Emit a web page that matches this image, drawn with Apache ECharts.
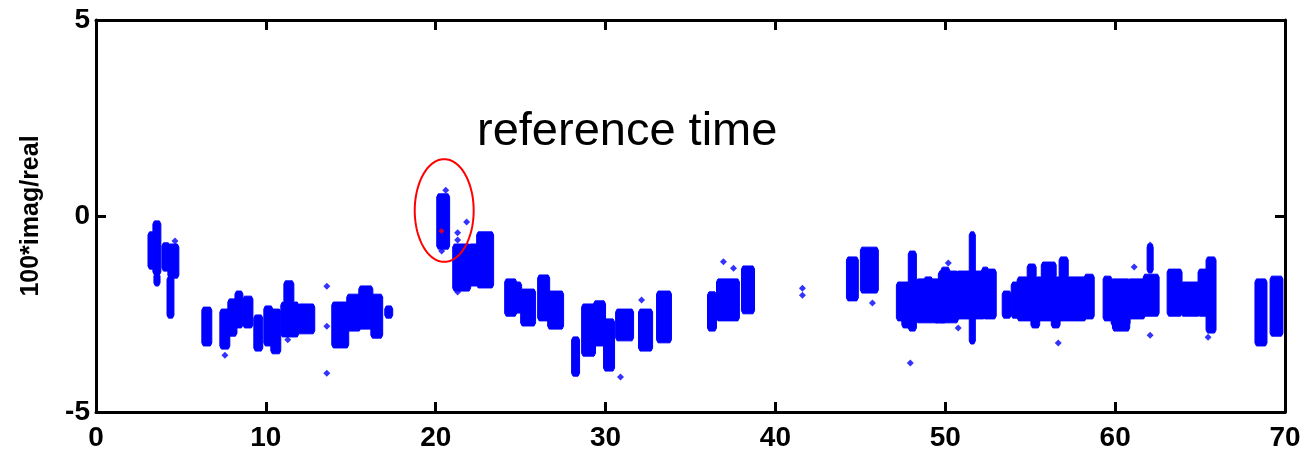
<!DOCTYPE html>
<html>
<head>
<meta charset="utf-8">
<script src="https://cdn.jsdelivr.net/npm/echarts@6/dist/echarts.min.js"></script>
<style>
html,body{margin:0;padding:0;background:#fff;}
#chart{width:1306px;height:456px;}
</style>
</head>
<body>
<div id="chart"></div>
<script>
// x ticks and y ticks
var xTicks = [0, 10, 20, 30, 40, 50, 60, 70];
var yTicks = [-5, 0, 5];

// Dense point clouds: [xStart, xEnd, yLow, yHigh]
var clusterBlocks = [
  [3.12,3.41,-1.33,-0.43],[3.41,3.76,-1.48,-0.15],[3.47,3.71,-1.76,-1.48],
  [3.94,4.29,-1.38,-0.71],[4.29,4.82,-1.56,-0.74],[4.24,4.53,-2.58,-1.56],
  [6.29,6.76,-3.29,-2.35],
  [7.35,7.82,-3.37,-2.40],
  [7.82,8.24,-3.04,-2.14],[8.24,8.59,-2.83,-1.94],
  [8.71,9.18,-2.83,-2.07],
  [9.35,9.76,-3.42,-2.55],
  [9.94,10.35,-3.29,-2.32],[10.35,10.82,-3.49,-2.40],
  [10.94,11.88,-3.06,-2.22],[11.12,11.59,-2.22,-1.68],
  [11.94,12.82,-2.98,-2.27],
  [13.94,14.82,-3.34,-2.22],
  [14.82,15.53,-2.91,-2.02],[15.53,16.24,-2.86,-1.81],[16.24,16.82,-3.09,-2.02],[17.06,17.41,-2.58,-2.32],
  [20.12,20.76,-0.82,0.54],
  [21.06,22.0,-1.89,-0.74],[22.0,22.47,-1.76,-0.74],[22.47,23.35,-1.81,-0.43],
  [24.12,24.71,-2.53,-1.63],[24.71,25.0,-2.45,-1.71],
  [25.06,25.82,-2.78,-1.89],
  [26.06,26.65,-2.65,-1.53],
  [26.65,27.47,-2.86,-1.94],
  [28.06,28.41,-4.06,-3.11],
  [28.65,29.35,-3.55,-2.27],[29.35,29.94,-3.29,-2.19],[29.94,30.47,-3.93,-2.65],
  [30.65,31.59,-3.16,-2.40],
  [32.0,32.71,-3.42,-2.40],
  [33.06,33.82,-3.21,-1.94],
  [36.06,36.47,-2.91,-1.96],
  [36.59,37.82,-2.65,-1.63],
  [38.06,38.71,-2.47,-1.30],
  [44.24,44.82,-2.14,-1.07],
  [45.06,46.0,-1.94,-0.82],
  [47.18,48.35,-2.65,-1.71],[47.5,48.1,-2.83,-2.4],[47.88,48.24,-2.91,-0.92],[48.35,49.65,-2.70,-1.63],
  [48.8,49.2,-2.2,-1.58],[49.4,50.0,-2.70,-2.2],[49.65,50.71,-2.70,-1.43],[49.8,50.2,-2.0,-1.33],
  [50.71,52.29,-2.60,-1.43],[51.47,51.71,-3.24,-0.43],[52.2,52.5,-2.0,-1.33],[52.29,52.94,-2.60,-1.38],
  [53.41,53.82,-2.58,-1.94],[53.94,54.29,-2.58,-1.71],[54.29,58.24,-2.65,-1.58],
  [54.88,55.29,-1.58,-1.25],[55.1,55.5,-2.83,-2.4],[55.71,56.47,-1.58,-1.20],[56.3,56.7,-2.83,-2.4],
  [56.76,57.18,-1.58,-1.07],[58.24,58.71,-2.60,-1.51],
  [59.35,59.76,-2.65,-1.56],
  [59.82,60.82,-2.78,-1.63],[59.9,60.8,-2.91,-2.5],[60.82,61.71,-2.60,-1.63],[61.71,62.53,-2.53,-1.51],[61.94,62.18,-1.43,-0.74],
  [63.12,63.88,-2.53,-1.38],
  [63.94,64.94,-2.53,-1.71],[64.94,65.53,-2.53,-1.38],[65.41,65.88,-2.96,-1.07],
  [68.29,68.88,-3.29,-1.63],
  [69.18,69.82,-3.04,-1.56]
];

// Isolated points
var scatterPoints = [
  [4.65,-0.64],[7.59,-3.55],[11.29,-3.16],
  [13.59,-1.79],[13.59,-2.81],[13.59,-4.01],
  [20.59,0.66],[20.35,-0.89],[21.82,-0.15],[21.29,-0.43],[21.29,-0.61],[21.29,-1.94],
  [30.88,-4.11],[32.12,-2.14],
  [36.94,-1.17],[37.53,-1.33],
  [41.59,-1.84],[41.59,-2.02],
  [45.71,-2.22],
  [47.94,-3.75],[50.18,-1.20],[50.76,-2.86],
  [56.65,-3.24],
  [61.12,-1.30],[62.06,-3.04],[62.06,-0.74],
  [65.47,-3.09]
];

// Reference time point
var referencePoint = [[20.34,-0.38]];
// Ellipse around reference: [centerX, centerY, radiusX, radiusY]
var referenceEllipse = [[20.50, 0.14, 1.735, 1.31]];
var annotationText = 'reference time';

var chart = echarts.init(document.getElementById('chart'));
var FONT = '"Liberation Sans", Arial, sans-serif';
var axisCommon = {
  min: 0, max: 70, interval: 10,
  axisLine: {show: true, onZero: false, lineStyle: {color: '#000', width: 3}},
  axisTick: {show: true, inside: true, length: 10, lineStyle: {color: '#000', width: 3}},
  splitLine: {show: false}
};
var option = {
  animation: false,
  backgroundColor: '#fff',
  grid: {left: 96, right: 21, top: 20, bottom: 44, containLabel: false},
  xAxis: [
    Object.assign({}, axisCommon, {type: 'value', position: 'bottom',
      axisLabel: {show: true, color: '#000', fontSize: 28, fontWeight: 'bold', fontFamily: FONT, margin: 12,
        formatter: function(v){ return xTicks.indexOf(v) >= 0 ? String(v) : ''; }}}),
    Object.assign({}, axisCommon, {type: 'value', position: 'top', axisLabel: {show: false}})
  ],
  yAxis: [
    Object.assign({}, axisCommon, {type: 'value', min: -5, max: 5, interval: 5, position: 'left',
      name: '100*imag/real', nameLocation: 'middle', nameGap: 52,
      nameTextStyle: {color: '#000', fontSize: 25, fontWeight: 'bold', fontFamily: FONT},
      axisLabel: {show: true, color: '#000', fontSize: 28, fontWeight: 'bold', fontFamily: FONT, margin: 6,
        formatter: function(v){ return yTicks.indexOf(v) >= 0 ? String(v) : ''; }}}),
    Object.assign({}, axisCommon, {type: 'value', min: -5, max: 5, interval: 5, position: 'right', axisLabel: {show: false}})
  ],
  series: [
    {
      type: 'custom',
      xAxisIndex: 0, yAxisIndex: 0,
      clip: true,
      encode: {x: [0, 1], y: [2, 3]},
      data: clusterBlocks,
      renderItem: function(params, api){
        var p0 = api.coord([api.value(0), api.value(3)]);
        var p1 = api.coord([api.value(1), api.value(2)]);
        var l = p0[0] - 1, r = p1[0] + 1, t = p0[1] - 1, b = p1[1] + 1;
        var w = r - l, h = b - t;
        var tp = Math.min(3, h / 3), inset = Math.min(1.5, w / 3);
        var pts = [
          [l + inset, t], [r - inset, t], [r, t + tp], [r, b - tp],
          [r - inset, b], [l + inset, b], [l, b - tp], [l, t + tp]
        ];
        return {type: 'polygon', shape: {points: pts},
          style: {fill: '#0000ff', stroke: '#0000ff', lineWidth: 1}};
      },
      z: 2
    },
    {
      type: 'scatter', xAxisIndex: 0, yAxisIndex: 0,
      data: scatterPoints, symbol: 'diamond', symbolSize: 7,
      itemStyle: {color: '#0000ff'}, z: 3
    },
    {
      type: 'scatter', xAxisIndex: 0, yAxisIndex: 0,
      data: referencePoint, symbol: 'diamond', symbolSize: 6,
      itemStyle: {color: '#ff0000'}, z: 4
    },
    {
      type: 'custom', xAxisIndex: 0, yAxisIndex: 0,
      data: referenceEllipse,
      encode: {x: 0, y: 1},
      renderItem: function(params, api){
        var c = api.coord([api.value(0), api.value(1)]);
        var s = api.size([api.value(2), api.value(3)]);
        var pts = [];
        for (var i = 0; i < 120; i++) {
          var t = i / 120 * Math.PI * 2;
          pts.push([c[0] + s[0] * Math.cos(t), c[1] + s[1] * Math.sin(t)]);
        }
        return {type: 'polygon', shape: {points: pts},
          style: {fill: 'none', stroke: '#ff0000', lineWidth: 2}};
      },
      z: 5
    }
  ],
  graphic: [
    {type: 'text', left: 477, top: 109,
      style: {text: annotationText, fill: '#000', font: 'normal 47px "Liberation Sans", Arial, sans-serif'}}
  ]
};
chart.setOption(option);
</script>
</body>
</html>
